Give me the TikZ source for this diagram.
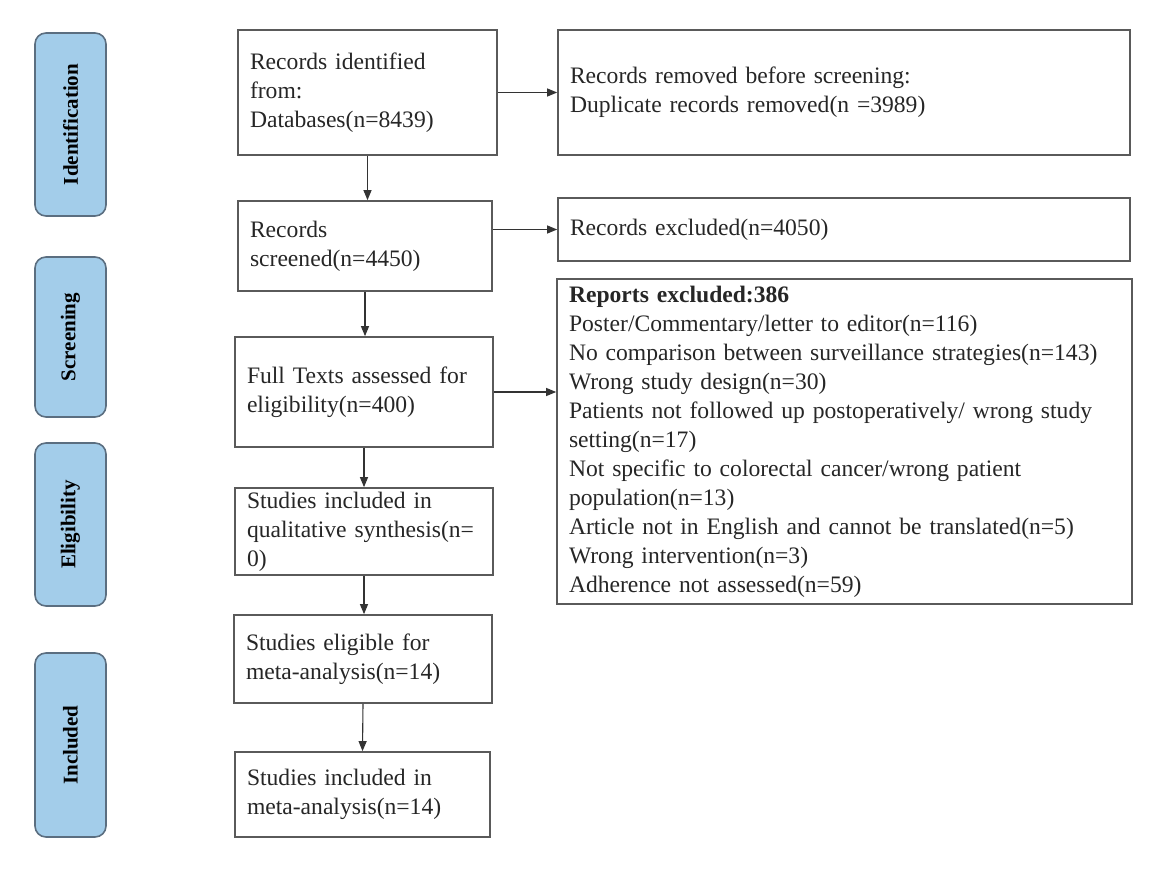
\documentclass[tikz,border=0pt]{standalone}
\usepackage{fontspec}
\setmainfont{Liberation Serif}
\usetikzlibrary{arrows.meta}
\definecolor{sidefill}{HTML}{A3CDEA}
\definecolor{sidedraw}{HTML}{5B6E80}
\definecolor{boxdraw}{HTML}{5A5A5A}
\begin{document}
\begin{tikzpicture}[x=1pt,y=-1pt,
  sidebox/.style={draw=sidedraw,fill=sidefill,line width=1.6pt,rounded corners=11pt,
    rotate=90,minimum height=71pt,inner sep=0pt,
    font=\fontsize{21}{25}\selectfont\bfseries},
  flowbox/.style={draw=boxdraw,line width=1.7pt,inner xsep=12pt,inner ysep=0pt,
    align=left,font=\fontsize{23.6}{29}\selectfont,text=black!85},
  arr/.style={draw=black!80,line width=1.1pt,-{Triangle[length=10pt,width=8pt]}}]
\useasboundingbox (0,0) rectangle (1170,869);
% side labels
\node[sidebox,minimum width=183pt] (L1) at (70.5,124.5) {Identification};
\node[sidebox,minimum width=160pt] (L2) at (70.5,337) {Screening};
\node[sidebox,minimum width=163pt] (L3) at (70.5,524.5) {Eligibility};
\node[sidebox,minimum width=184pt] (L4) at (70.5,745) {Included};
% main flow
\node[flowbox,text width=235pt,minimum height=125pt] (id) at (367.5,92.5)
  {Records identified\\from:\\Databases(n=8439)};
\node[flowbox,text width=548pt,minimum height=125pt] (rem) at (844,92.5)
  {Records removed before screening:\\Duplicate records removed(n =3989)};
\node[flowbox,text width=230pt,minimum height=90pt] (scr) at (365,246)
  {Records\\screened(n=4450)};
\node[flowbox,text width=548pt,minimum height=63pt] (exc) at (844,229.5)
  {Records excluded(n=4050)};
\node[flowbox,text width=234pt,minimum height=110pt] (full) at (364,392)
  {Full Texts assessed for\\eligibility(n=400)};
\node[flowbox,text width=551pt,minimum height=325pt] (rep) at (844.5,441.5)
  {\textbf{Reports excluded:386}\\
   Poster/Commentary/letter to editor(n=116)\\
   No comparison between surveillance strategies(n=143)\\
   Wrong study design(n=30)\\
   Patients not followed up postoperatively/ wrong study\\
   setting(n=17)\\
   Not specific to colorectal cancer/wrong patient\\
   population(n=13)\\
   Article not in English and cannot be translated(n=5)\\
   Wrong intervention(n=3)\\
   Adherence not assessed(n=59)};
\node[flowbox,text width=234pt,minimum height=87pt] (qual) at (364,531.5)
  {Studies included in\\qualitative synthesis(n=\\0)};
\node[flowbox,text width=234pt,minimum height=88pt] (elig) at (363,659)
  {Studies eligible for\\meta-analysis(n=14)};
\node[flowbox,text width=231pt,minimum height=85pt] (inc) at (362.5,794.5)
  {Studies included in\\meta-analysis(n=14)};
% connectors
\draw[arr] (id.east) -- (id.east -| rem.west);
\draw[arr] (scr.east |- exc.west) -- (exc.west);
\draw[arr] (full.east) -- (full.east -| rep.west);
\draw[arr] (id.south) -- (id.south |- scr.north);
\draw[arr] (scr.south) -- (scr.south |- full.north);
\draw[arr] (full.south) -- (full.south |- qual.north);
\draw[arr] (qual.south) -- (qual.south |- elig.north);
\draw[arr] (elig.south) -- (inc.north);
\end{tikzpicture}
\end{document}
